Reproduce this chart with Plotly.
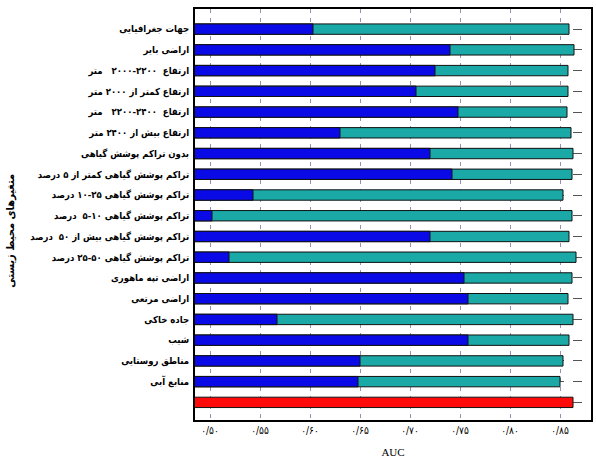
import plotly.graph_objects as go

# Environmental variables (top to bottom); the last row is the full model
variables = [
    "جهات جغرافیایی",
    "اراضی بایر",
    "ارتفاع  ۲۲۰۰-۲۰۰۰   متر",
    "ارتفاع کمتر از ۲۰۰۰ متر",
    "ارتفاع  ۲۴۰۰-۲۲۰۰   متر",
    "ارتفاع بیش از ۲۴۰۰ متر",
    "بدون تراکم پوشش گیاهی",
    "تراکم پوشش گیاهی کمتر از ۵ درصد",
    "تراکم پوشش گیاهی ۲۵-۱۰ درصد",
    "تراکم پوشش گیاهی ۱۰-۵  درصد",
    "تراکم پوشش گیاهی بیش از ۵۰  درصد",
    "تراکم پوشش گیاهی ۵۰-۲۵ درصد",
    "اراضی تپه ماهوری",
    "اراضی مرتعی",
    "جاده خاکی",
    "شیب",
    "مناطق روستایی",
    "منابع آبی",
]

# AUC with only this variable
auc_only = [0.603, 0.740, 0.725, 0.706, 0.748, 0.630, 0.720, 0.742, 0.543,
            0.502, 0.720, 0.519, 0.754, 0.758, 0.567, 0.758, 0.650, 0.648]
# AUC without this variable
auc_without = [0.859, 0.864, 0.858, 0.858, 0.857, 0.861, 0.863, 0.862, 0.853,
               0.862, 0.859, 0.866, 0.862, 0.858, 0.863, 0.859, 0.853, 0.850]
# AUC with all variables
auc_all = 0.863

tick_values = [0.50, 0.55, 0.60, 0.65, 0.70, 0.75, 0.80, 0.85]
tick_labels = ["۰/۵۰", "۰/۵۵", "۰/۶۰", "۰/۶۵", "۰/۷۰", "۰/۷۵", "۰/۸۰", "۰/۸۵"]

y_title = "متغیرهای محیط زیستی"
x_title = "AUC"

rows = list(range(len(variables)))
all_row = len(variables)
row_labels = variables + [""]

label_font = "DejaVu Sans Condensed, DejaVu Sans"

fig = go.Figure()
fig.add_trace(go.Bar(
    y=rows, x=auc_without, orientation="h", width=0.5,
    marker=dict(color="#1aa9a6", line=dict(color="#111", width=1)),
    name="without variable",
))
fig.add_trace(go.Bar(
    y=rows, x=auc_only, orientation="h", width=0.5,
    marker=dict(color="#0a0ae6", line=dict(color="#111", width=1)),
    name="with only variable",
))
fig.add_trace(go.Bar(
    y=[all_row], x=[auc_all], orientation="h", width=0.5,
    marker=dict(color="#ff0a0a", line=dict(color="#111", width=1)),
    name="with all variables",
))

fig.update_layout(
    width=596, height=460,
    margin=dict(l=195, r=5, t=9, b=40),
    barmode="overlay",
    showlegend=False,
    plot_bgcolor="white",
    paper_bgcolor="white",
    font=dict(family="DejaVu Sans", color="black"),
    xaxis=dict(
        range=[0.485, 0.881], automargin=False,
        tickvals=tick_values, ticktext=tick_labels,
        tickfont=dict(size=10, family=label_font),
        ticks="", showgrid=True, gridcolor="#9a8fb0", griddash="4px,5px", gridwidth=1,
        showline=True, linecolor="black", linewidth=1.5, mirror=True,
        zeroline=False,
        title=dict(text=x_title, font=dict(family="Liberation Serif", size=11), standoff=14),
    ),
    yaxis=dict(
        range=[all_row + 0.85, -0.97], automargin=False,
        tickvals=rows + [all_row], ticktext=row_labels,
        tickfont=dict(size=9.5, family=label_font, weight="bold"),
        ticks="", ticklabelstandoff=2,
        showgrid=True, gridcolor="#555", griddash="dash", gridwidth=1,
        showline=True, linecolor="black", linewidth=2, mirror=True,
        zeroline=False,
    ),
    annotations=[dict(
        text=y_title, textangle=-90,
        xref="paper", yref="paper", x=-0.465, y=0.46,
        xanchor="center", yanchor="middle", showarrow=False,
        font=dict(size=11, family=label_font, weight="bold"),
    )],
)

fig.write_html("out.html")
